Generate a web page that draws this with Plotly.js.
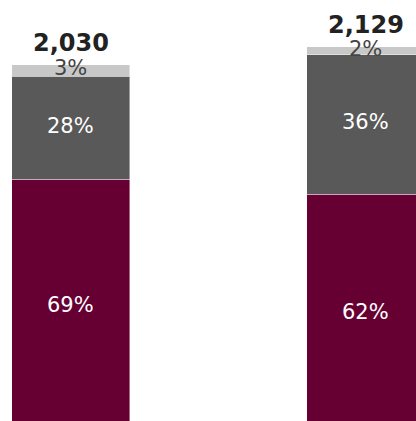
<!DOCTYPE html>
<html>
<head>
<meta charset="utf-8">
<script src="https://cdn.plot.ly/plotly-3.0.1.min.js"></script>
<style>html,body{margin:0;padding:0;background:#fff;}#chart{width:416px;height:421px;}</style>
</head>
<body>
<div id="chart"></div>
<script>
var categories = ['Bar 1', 'Bar 2'];
var maroonValues = [1401, 1320];
var darkGreyValues = [568, 766];
var lightGreyValues = [61, 43];

var seriesColors = ['#660033', '#595959', '#c8c8c8'];
var labelColors = ['#ffffff', '#ffffff', '#444444'];
var series = [maroonValues, darkGreyValues, lightGreyValues];

var totals = categories.map(function(c, i){ return maroonValues[i] + darkGreyValues[i] + lightGreyValues[i]; });

var traces = series.map(function(vals, k){
  return {
    type: 'bar', x: categories, y: vals, width: 0.4,
    marker: {color: seriesColors[k], line: {color: 'rgba(255,255,255,0.6)', width: 0.7}},
    hoverinfo: 'none'
  };
});

var annotations = [];
categories.forEach(function(c, i){
  var base = 0;
  series.forEach(function(vals, k){
    var pct = Math.round(vals[i] / totals[i] * 100) + '%';
    annotations.push({
      x: c, y: base + vals[i] / 2, xref: 'x', yref: 'y', text: pct, showarrow: false, yshift: 2,
      font: {family: 'DejaVu Sans', size: 21, color: labelColors[k], weight: 'normal'}
    });
    base += vals[i];
  });
  annotations.push({
    x: c, y: totals[i], xref: 'x', yref: 'y', text: '<b>' + totals[i].toLocaleString('en-US') + '</b>',
    showarrow: false, yanchor: 'middle', yshift: 22,
    font: {family: 'DejaVu Sans', size: 24, color: '#222222'}
  });
});

var layout = {
  width: 416, height: 421,
  margin: {l: 0, r: 0, t: 0, b: 0},
  barmode: 'stack', showlegend: false,
  paper_bgcolor: '#ffffff', plot_bgcolor: '#ffffff',
  xaxis: {type: 'category', range: [-0.2398, 1.1703], visible: false, fixedrange: true},
  yaxis: {range: [71.5, 2387], visible: false, fixedrange: true},
  annotations: annotations
};

Plotly.newPlot('chart', traces, layout, {displayModeBar: false, staticPlot: true});
</script>
</body>
</html>
